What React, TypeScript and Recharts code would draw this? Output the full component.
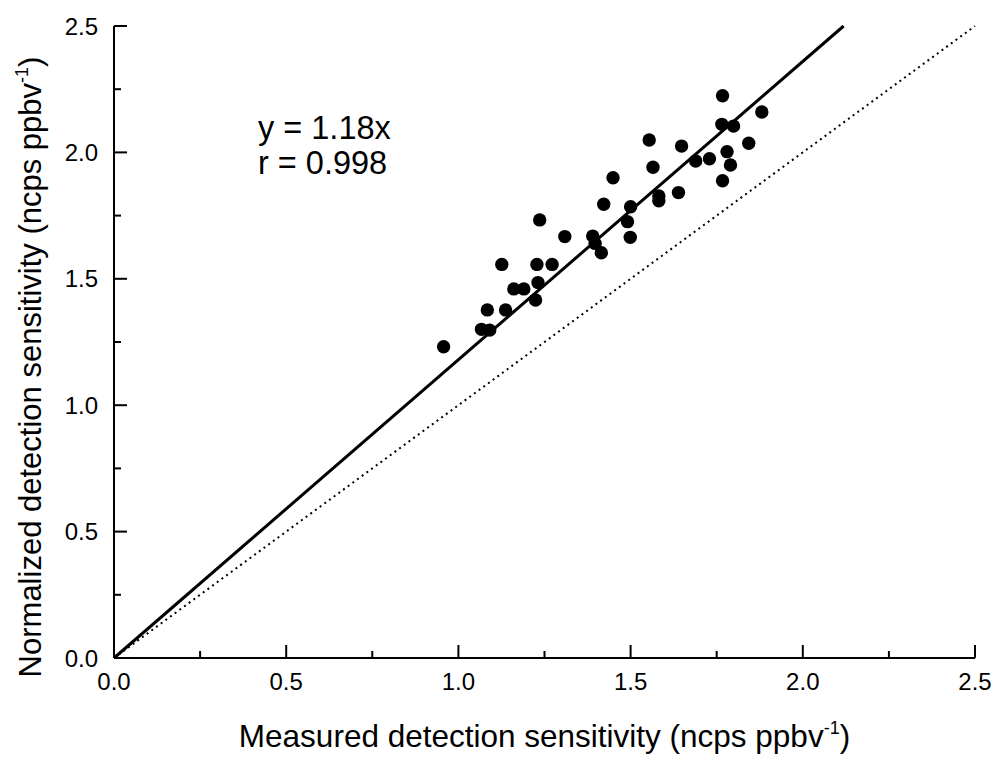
import React from 'react';
import { ScatterChart, Scatter, XAxis, YAxis, ReferenceLine, Customized } from 'recharts';

const measured = [
  0.957, 1.067, 1.091, 1.084, 1.137, 1.126, 1.161, 1.19, 1.224, 1.231,
  1.228, 1.236, 1.272, 1.309, 1.39, 1.397, 1.415, 1.422, 1.449, 1.491,
  1.499, 1.5, 1.554, 1.565, 1.582, 1.582, 1.639, 1.648, 1.689, 1.729,
  1.767, 1.765, 1.799, 1.78, 1.79, 1.767, 1.843, 1.881,
];
const normalized = [
  1.231, 1.3, 1.297, 1.377, 1.377, 1.557, 1.46, 1.46, 1.416, 1.485,
  1.557, 1.733, 1.557, 1.667, 1.669, 1.64, 1.603, 1.795, 1.9, 1.726,
  1.664, 1.785, 2.049, 1.941, 1.828, 1.809, 1.841, 2.025, 1.966, 1.975,
  2.224, 2.111, 2.104, 2.003, 1.95, 1.888, 2.036, 2.16,
];
const axisTicks = [0, 0.25, 0.5, 0.75, 1, 1.25, 1.5, 1.75, 2, 2.25, 2.5];
const majorTicks = [0, 0.5, 1, 1.5, 2, 2.5];
const axisDomain = [0, 2.5];
const fitSlope = 1.18;
const correlation = 0.998;
const xTitle = 'Measured detection sensitivity (ncps ppbv';
const yTitle = 'Normalized detection sensitivity (ncps ppbv';

const points = measured.map((x, i) => ({ x, y: normalized[i] }));
const fitEnd = { x: axisDomain[1] / fitSlope, y: axisDomain[1] };

const FONT = 'Arial, "Liberation Sans", sans-serif';
const MAJOR = 13;
const MINOR = 7;

const isMajor = (v: number) => majorTicks.some((m) => Math.abs(m - v) < 1e-6);

const BottomTick = (props: any) => {
  const { x, y, payload } = props;
  const v = payload.value;
  const major = isMajor(v);
  return (
    <g>
      <line x1={x} x2={x} y1={y} y2={y - (major ? MAJOR : MINOR)} stroke="#000" strokeWidth={2} />
      {major && (
        <text x={x} y={y + 32} textAnchor="middle" fontSize={24} fill="#000" fontFamily={FONT}>
          {v.toFixed(1)}
        </text>
      )}
    </g>
  );
};

const TopTick = (props: any) => {
  const { x, y, payload } = props;
  const major = isMajor(payload.value);
  return <line x1={x} x2={x} y1={y} y2={y + (major ? MAJOR : MINOR)} stroke="#000" strokeWidth={2} />;
};

const LeftTick = (props: any) => {
  const { x, y, payload } = props;
  const v = payload.value;
  const major = isMajor(v);
  return (
    <g>
      <line x1={x} x2={x + (major ? MAJOR : MINOR)} y1={y} y2={y} stroke="#000" strokeWidth={2} />
      {major && (
        <text x={x - 16} y={y + 8.5} textAnchor="end" fontSize={24} fill="#000" fontFamily={FONT}>
          {v.toFixed(1)}
        </text>
      )}
    </g>
  );
};

const RightTick = (props: any) => {
  const { x, y, payload } = props;
  const major = isMajor(payload.value);
  return <line x1={x} x2={x - (major ? MAJOR : MINOR)} y1={y} y2={y} stroke="#000" strokeWidth={2} />;
};

const XTitle = (props: any) => {
  const vb = props.viewBox || { x: 114, y: 658, width: 861, height: 60 };
  return (
    <text x={vb.x + vb.width / 2} y={vb.y + 89} textAnchor="middle" fontSize={31.5} fill="#000" fontFamily={FONT}>
      {xTitle}
      <tspan dy={-13} fontSize={18}>-1</tspan>
      <tspan dy={13}>)</tspan>
    </text>
  );
};

const YTitle = (props: any) => {
  const vb = props.viewBox || { x: 34, y: 26, width: 80, height: 632 };
  const cx = 41;
  const cy = vb.y + vb.height / 2 + 25;
  return (
    <text
      x={cx}
      y={cy}
      transform={`rotate(-90 ${cx} ${cy})`}
      textAnchor="middle"
      fontSize={31}
      fill="#000"
      fontFamily={FONT}
    >
      {yTitle}
      <tspan dy={-13} fontSize={18}>-1</tspan>
      <tspan dy={13}>)</tspan>
    </text>
  );
};

const Annotation = () => (
  <g>
    <text x={258} y={139} fontSize={32.5} fill="#000" fontFamily={FONT}>
      {`y = ${fitSlope.toFixed(2)}x`}
    </text>
    <text x={258} y={174} fontSize={32.5} fill="#000" fontFamily={FONT}>
      {`r = ${correlation.toFixed(3)}`}
    </text>
  </g>
);

const Dot = (props: any) => {
  const { cx, cy } = props;
  return <circle cx={cx} cy={cy} r={6.7} fill="#000" />;
};

export default function App() {
  return (
    <div style={{ position: 'absolute', left: 0, top: 0, background: '#fff' }}>
      <ScatterChart width={997} height={757} margin={{ top: 26, right: 22, bottom: 39, left: 34 }}>
        <XAxis
          xAxisId={0}
          type="number"
          dataKey="x"
          domain={axisDomain}
          ticks={axisTicks}
          interval={0}
          allowDataOverflow
          height={60}
          tickSize={0}
          tickMargin={0}
          tickLine={false}
          axisLine={{ stroke: '#000', strokeWidth: 2 }}
          tick={BottomTick}
          label={{ content: XTitle }}
        />
        <XAxis
          xAxisId="top"
          orientation="top"
          type="number"
          dataKey="x"
          domain={axisDomain}
          ticks={axisTicks}
          interval={0}
          allowDataOverflow
          height={0}
          tickSize={0}
          tickMargin={0}
          tickLine={false}
          axisLine={{ stroke: '#000', strokeWidth: 2 }}
          tick={TopTick}
        />
        <YAxis
          yAxisId={0}
          type="number"
          dataKey="y"
          domain={axisDomain}
          ticks={axisTicks}
          interval={0}
          allowDataOverflow
          width={80}
          tickSize={0}
          tickMargin={0}
          tickLine={false}
          axisLine={{ stroke: '#000', strokeWidth: 2 }}
          tick={LeftTick}
          label={{ content: YTitle }}
        />
        <YAxis
          yAxisId="right"
          orientation="right"
          type="number"
          dataKey="y"
          domain={axisDomain}
          ticks={axisTicks}
          interval={0}
          allowDataOverflow
          width={0}
          tickSize={0}
          tickMargin={0}
          tickLine={false}
          axisLine={{ stroke: '#000', strokeWidth: 2 }}
          tick={RightTick}
        />
        <ReferenceLine
          xAxisId={0}
          yAxisId={0}
          segment={[{ x: 0, y: 0 }, { x: axisDomain[1], y: axisDomain[1] }]}
          stroke="#000"
          strokeWidth={2}
          strokeDasharray="2 3.8"
        />
        <ReferenceLine
          xAxisId={0}
          yAxisId={0}
          segment={[{ x: 0, y: 0 }, fitEnd]}
          stroke="#000"
          strokeWidth={3}
        />
        <Scatter xAxisId={0} yAxisId={0} data={points} shape={Dot} isAnimationActive={false} />
        <Customized component={Annotation} />
      </ScatterChart>
    </div>
  );
}
